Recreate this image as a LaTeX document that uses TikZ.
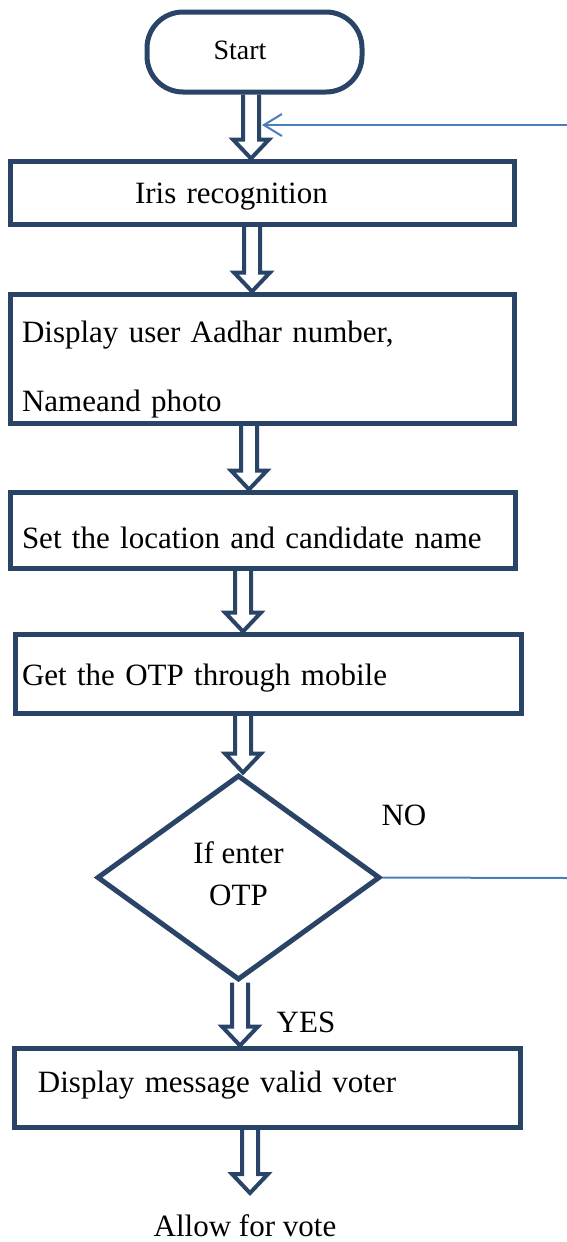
\documentclass[tikz,border=0pt]{standalone}
\usepackage{fontspec}
\setmainfont{Liberation Serif}
\usetikzlibrary{shapes.geometric,arrows.meta,calc}
\definecolor{navy}{HTML}{2A4468}
\definecolor{fblue}{HTML}{4A7EBB}
\newcommand{\blockarr}[3]{%
  \draw[blockarrow] let \p1=(#2), \p2=(#3) in
    (#1pt-8pt,\y1) -- (#1pt-8pt,\y2+19pt) -- (#1pt-18pt,\y2+19pt) -- (#1pt,\y2)
    -- (#1pt+18pt,\y2+19pt) -- (#1pt+8pt,\y2+19pt) -- (#1pt+8pt,\y1);}
\begin{document}
\begin{tikzpicture}[x=1pt,y=-1pt,
  mainfont/.style={font=\fontsize{31pt}{69pt}\selectfont},
  stepbox/.style={rectangle, draw=navy, line width=5pt, fill=white, inner xsep=0pt,
    inner ysep=0pt, align=left, mainfont, text depth=0pt},
  startbox/.style={rectangle, rounded corners=36pt, draw=navy, line width=5pt, fill=white,
    minimum width=215pt, minimum height=80pt, inner sep=0pt, text height=14pt, text depth=0pt,
    font=\fontsize{28pt}{34pt}\selectfont},
  decision/.style={diamond, draw=navy, line width=5pt, fill=white, inner sep=0pt,
    minimum width=283pt, minimum height=205pt, align=center, text height=56pt, text depth=0pt,
    font=\fontsize{31pt}{42pt}\selectfont},
  lbl/.style={inner sep=0pt, mainfont},
  blockarrow/.style={draw=navy, line width=4pt, line join=miter},
  fb/.style={draw=fblue, line width=2pt}]
\useasboundingbox (0,0) rectangle (567,1242);

\node[startbox] (start) at (254.5,52) {\hspace*{-29pt}Start};
\node[stepbox, text width=504pt, minimum height=63pt, text height=21pt] (iris) at (262,192.5)
  {\hspace*{125pt}Iris recognition};
\node[stepbox, text width=504pt, minimum height=129pt, text height=22pt, text depth=55pt] (disp) at (262,358.5)
  {\hspace*{12pt}Display user Aadhar number,\\\hspace*{12pt}Nameand photo};
\node[stepbox, text width=505pt, minimum height=76pt, text height=36pt] (loc) at (262.5,530)
  {\hspace*{12pt}Set the location and candidate name};
\node[stepbox, text width=506pt, minimum height=79pt, text height=23pt] (otp) at (268,673.5)
  {\hspace*{7pt}Get the OTP through mobile};
\node[decision] (dia) at (238.5,877.5) {If enter\\OTP};
\node[stepbox, text width=506pt, minimum height=79pt, text height=9pt] (valid) at (267,1087.5)
  {\hspace*{24pt}Display message valid voter};

\node[lbl] (no) at (404,815) {NO};
\node[lbl] (yes) at (306,1022) {YES};
\node[lbl] (vote) at (245,1226) {Allow for vote};

\coordinate (voteTip) at (250,1193);
\blockarr{251}{start.south}{iris.north}
\blockarr{252}{iris.south}{disp.north}
\blockarr{249}{disp.south}{loc.north}
\blockarr{243}{loc.south}{otp.north}
\blockarr{243}{otp.south}{dia.north}
\blockarr{240}{dia.south}{valid.north}
\blockarr{250}{valid.south}{voteTip}

\coordinate (fbIn) at (567,125);
\coordinate (fbTip) at (262,125);
\coordinate (noEnd) at (567,878);
\draw[fb, -{Straight Barb[length=18pt,width=22pt]}] (fbIn) -- (fbTip);
\draw[fb] (dia.east) -- (noEnd);
\end{tikzpicture}
\end{document}
